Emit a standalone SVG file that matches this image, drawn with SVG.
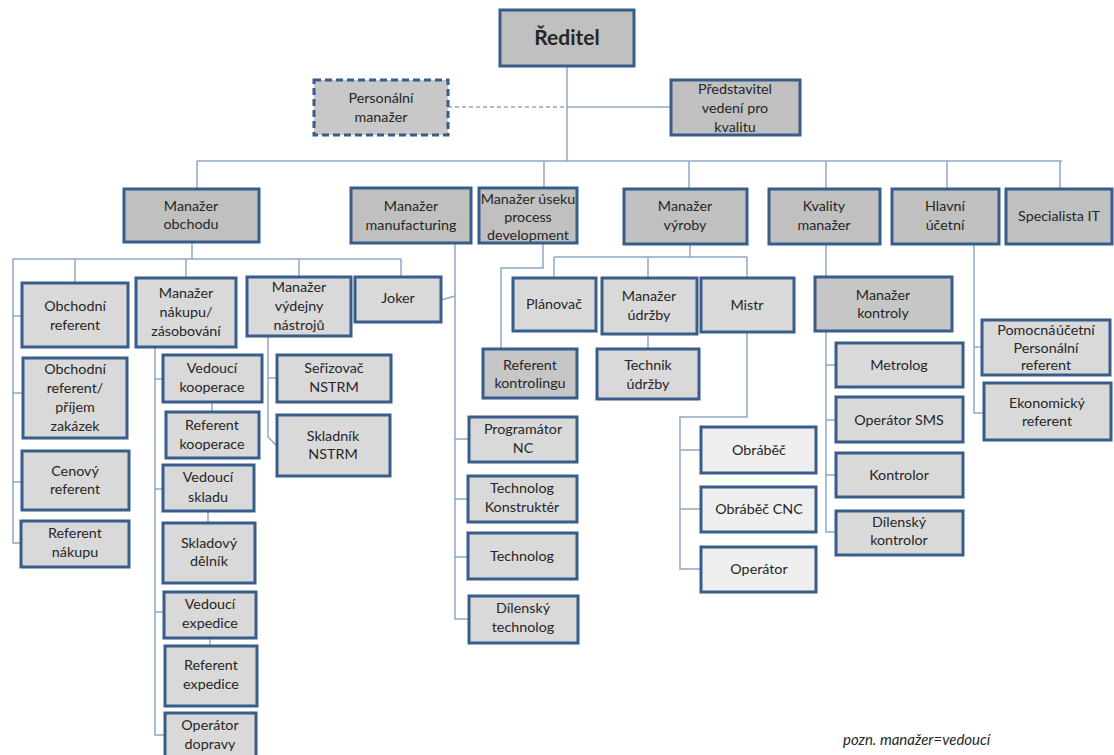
<svg xmlns="http://www.w3.org/2000/svg" width="1114" height="755" viewBox="0 0 1114 755">
<style>
.b{stroke:#385d8a;stroke-width:3;}
.top{fill:#c0c0c0;}
.mid{fill:#c6c6c6;}
.leaf{fill:#d9d9d9;}
.light{fill:#efefef;}
.dash{fill:#c8c8c8;stroke-dasharray:7,4;}
text{font-family:Lato,"Liberation Sans",sans-serif;font-size:14.3px;fill:#262626;text-anchor:middle;}
.title{font-size:21px;font-weight:bold;}
.note{font-style:italic;font-size:15px;text-anchor:start;}
#connectors path{fill:none;stroke:#8fa8c6;stroke-width:1.5;}
#connectors .d{stroke-dasharray:4,3;}
</style>
<rect width="1114" height="755" fill="#ffffff"/>
<g id="connectors">
<path d="M567,66 V161"/>
<path class="d" d="M448,107 H567"/>
<path d="M567,107 H671"/>
<path d="M197,161 H1062"/>
<path d="M197,161 V189 M544,161 V188 M689,161 V189 M826,161 V189 M947,161 V189 M1060,161 V189"/>
<path d="M192,242 V259 M13,259 H401 M13,259 V543 H21 M13,316 H22 M13,393 H23 M13,482 H22 M75,259 V283 M186,259 V278 M299,259 V277 M401,259 V277"/>
<path d="M155,347 V735 H165 M155,379 H163 M155,489 H163 M155,612 H164 M212,402 V412 M208,511 V523 M210,638 V646"/>
<path d="M268,336 V437 L277,446 M268,378 H277"/>
<path d="M441,300 L455,296 M455,243 V619 H469 M455,439 H469 M455,499 H468 M455,557 H468"/>
<path d="M543,243 V268 H501 V349"/>
<path d="M690,244 V257 M554,257 H747 M554,257 V278 M648,257 V278 M747,257 V278 M648,334 V349"/>
<path d="M747,332 V417 H680 V569 H701 M680,450 H701 M680,509 H701"/>
<path d="M826,244 V277 M826,331 V532 H836 M826,365 H836 M826,420 H836 M826,475 H836"/>
<path d="M974,244 V413 H984 M974,347 H982"/>
</g>
<g id="reditel"><rect class="b top" x="500" y="10" width="134" height="56"/><text class="title" x="567" y="45">Ředitel</text></g>
<g id="personalni"><rect class="b dash" x="314" y="80" width="134" height="55"/><text x="381" y="103">Personální</text><text x="381" y="122">manažer</text></g>
<g id="predstavitel"><rect class="b top" x="671" y="80" width="129" height="55"/><text x="735" y="94">Představitel</text><text x="735" y="113">vedení pro</text><text x="735" y="132">kvalitu</text></g>
<g id="man_obchodu"><rect class="b top" x="124" y="189" width="135" height="53"/><text x="191" y="211">Manažer</text><text x="191" y="229">obchodu</text></g>
<g id="man_manufacturing"><rect class="b top" x="351" y="188" width="120" height="55"/><text x="411" y="211">Manažer</text><text x="411" y="230">manufacturing</text></g>
<g id="man_process"><rect class="b top" x="479" y="188" width="98" height="55"/><text x="528" y="204">Manažer úseku</text><text x="528" y="222">process</text><text x="528" y="240">development</text></g>
<g id="man_vyroby"><rect class="b top" x="624" y="189" width="123" height="55"/><text x="685" y="211">Manažer</text><text x="685" y="230">výroby</text></g>
<g id="kvality"><rect class="b top" x="769" y="189" width="111" height="55"/><text x="824" y="211">Kvality</text><text x="824" y="230">manažer</text></g>
<g id="hlavni"><rect class="b top" x="892" y="189" width="107" height="55"/><text x="945" y="211">Hlavní</text><text x="945" y="230">účetní</text></g>
<g id="specialista"><rect class="b top" x="1006" y="189" width="106" height="55"/><text x="1059" y="221">Specialista IT</text></g>
<g id="obch_ref"><rect class="b leaf" x="22" y="283" width="106" height="64"/><text x="75" y="311">Obchodní</text><text x="75" y="330">referent</text></g>
<g id="obch_prijem"><rect class="b leaf" x="23" y="358" width="104" height="80"/><text x="75" y="374">Obchodní</text><text x="75" y="393">referent/</text><text x="75" y="412">příjem</text><text x="75" y="431">zakázek</text></g>
<g id="cenovy"><rect class="b leaf" x="22" y="451" width="107" height="59"/><text x="75" y="476">Cenový</text><text x="75" y="494">referent</text></g>
<g id="ref_nakupu"><rect class="b leaf" x="21" y="521" width="108" height="46"/><text x="75" y="538">Referent</text><text x="75" y="557">nákupu</text></g>
<g id="man_nakupu"><rect class="b leaf" x="136" y="278" width="100" height="69"/><text x="186" y="298">Manažer</text><text x="186" y="317">nákupu/</text><text x="186" y="336">zásobování</text></g>
<g id="man_vydejny"><rect class="b leaf" x="247" y="277" width="104" height="59"/><text x="299" y="292">Manažer</text><text x="299" y="311">výdejny</text><text x="299" y="330">nástrojů</text></g>
<g id="joker"><rect class="b leaf" x="355" y="277" width="86" height="45"/><text x="398" y="303">Joker</text></g>
<g id="ved_koop"><rect class="b leaf" x="163" y="355" width="99" height="47"/><text x="212" y="373">Vedoucí</text><text x="212" y="392">kooperace</text></g>
<g id="ref_koop"><rect class="b leaf" x="166" y="412" width="93" height="46"/><text x="212" y="430">Referent</text><text x="212" y="449">kooperace</text></g>
<g id="ved_sklad"><rect class="b leaf" x="163" y="465" width="91" height="46"/><text x="208" y="482">Vedoucí</text><text x="208" y="502">skladu</text></g>
<g id="sklad_delnik"><rect class="b leaf" x="163" y="523" width="92" height="60"/><text x="209" y="548">Skladový</text><text x="209" y="566">dělník</text></g>
<g id="ved_exped"><rect class="b leaf" x="164" y="592" width="92" height="46"/><text x="210" y="609">Vedoucí</text><text x="210" y="628">expedice</text></g>
<g id="ref_exped"><rect class="b leaf" x="165" y="646" width="92" height="60"/><text x="211" y="670">Referent</text><text x="211" y="689">expedice</text></g>
<g id="oper_dopr"><rect class="b leaf" x="165" y="713" width="91" height="50"/><text x="210" y="730">Operátor</text><text x="210" y="749">dopravy</text></g>
<g id="serizovac"><rect class="b leaf" x="277" y="355" width="114" height="47"/><text x="334" y="373">Seřizovač</text><text x="334" y="392">NSTRM</text></g>
<g id="skladnik"><rect class="b leaf" x="277" y="415" width="113" height="61"/><text x="333" y="441">Skladník</text><text x="333" y="459">NSTRM</text></g>
<g id="programator"><rect class="b leaf" x="469" y="417" width="108" height="45"/><text x="523" y="434">Programátor</text><text x="523" y="453">NC</text></g>
<g id="tech_konst"><rect class="b leaf" x="468" y="476" width="109" height="46"/><text x="522" y="493">Technolog</text><text x="522" y="512">Konstruktér</text></g>
<g id="technolog"><rect class="b leaf" x="468" y="533" width="109" height="46"/><text x="522" y="561">Technolog</text></g>
<g id="dil_tech"><rect class="b leaf" x="469" y="596" width="109" height="47"/><text x="523" y="613">Dílenský</text><text x="523" y="632">technolog</text></g>
<g id="ref_kontrol"><rect class="b mid" x="483" y="349" width="94" height="49"/><text x="530" y="370">Referent</text><text x="530" y="388">kontrolingu</text></g>
<g id="planovac"><rect class="b leaf" x="513" y="278" width="83" height="53"/><text x="554" y="309">Plánovač</text></g>
<g id="man_udrzby"><rect class="b leaf" x="602" y="278" width="95" height="56"/><text x="649" y="301">Manažer</text><text x="649" y="320">údržby</text></g>
<g id="mistr"><rect class="b leaf" x="701" y="278" width="93" height="54"/><text x="747" y="310">Mistr</text></g>
<g id="technik"><rect class="b leaf" x="597" y="349" width="102" height="50"/><text x="648" y="370">Technik</text><text x="648" y="389">údržby</text></g>
<g id="obrabec"><rect class="b light" x="701" y="427" width="115" height="46"/><text x="759" y="455">Obráběč</text></g>
<g id="obrabec_cnc"><rect class="b light" x="701" y="487" width="115" height="45"/><text x="759" y="514">Obráběč CNC</text></g>
<g id="operator"><rect class="b light" x="701" y="547" width="115" height="45"/><text x="759" y="574">Operátor</text></g>
<g id="man_kontroly"><rect class="b mid" x="815" y="277" width="137" height="54"/><text x="883" y="300">Manažer</text><text x="883" y="318">kontroly</text></g>
<g id="metrolog"><rect class="b leaf" x="836" y="343" width="127" height="44"/><text x="899" y="370">Metrolog</text></g>
<g id="oper_sms"><rect class="b leaf" x="836" y="397" width="127" height="45"/><text x="899" y="425">Operátor SMS</text></g>
<g id="kontrolor"><rect class="b leaf" x="836" y="453" width="127" height="44"/><text x="899" y="480">Kontrolor</text></g>
<g id="dil_kontrolor"><rect class="b leaf" x="836" y="511" width="127" height="44"/><text x="899" y="527">Dílenský</text><text x="899" y="545">kontrolor</text></g>
<g id="pomocna"><rect class="b leaf" x="982" y="320" width="128" height="55"/><text x="1046" y="335" style="word-spacing:-3px">Pomocná účetní</text><text x="1046" y="353">Personální</text><text x="1046" y="370">referent</text></g>
<g id="ekonom"><rect class="b leaf" x="984" y="383" width="127" height="57"/><text x="1047" y="408">Ekonomický</text><text x="1047" y="426">referent</text></g>
<text class="note" x="843" y="745">pozn. manažer=vedoucí</text>
</svg>
